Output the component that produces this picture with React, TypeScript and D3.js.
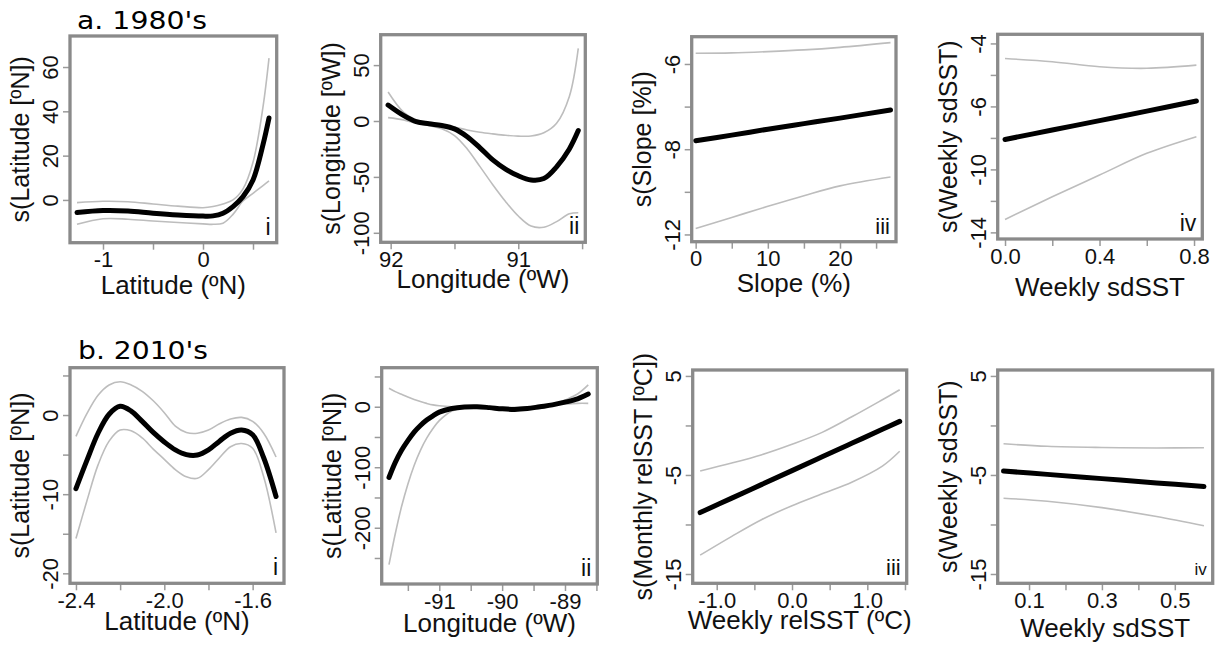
import React, { useRef, useEffect } from "react";
import * as d3 from "d3";

// ---- data (fit + upper / lower confidence bands) ----

// a.i  Latitude 1980's
const a1X = [-1.26, -1.0, -0.75, -0.5, -0.25, 0, 0.1, 0.2, 0.3, 0.4, 0.5, 0.6, 0.66];
const a1Fit = [-5.7, -4.8, -5.0, -6.0, -6.8, -7.3, -7.2, -6.0, -3.0, 1.5, 9, 25, 37];
const a1Hi = [-1.2, -0.6, -0.8, -1.8, -2.8, -3.5, -3.0, -1.8, 0, 5, 17, 42, 64];
const a1Lo = [-11, -8.5, -8.7, -9.5, -10.2, -10.8, -11, -10.5, -6.5, -0.5, 3, 6.5, 8.6];

// a.ii  Longitude 1980's (ºW, axis runs 92 -> 90.5)
const a2X = [92.02, 91.9, 91.8, 91.7, 91.6, 91.5, 91.4, 91.3, 91.2, 91.1, 91.0, 90.9, 90.8, 90.7, 90.6, 90.53];
const a2Fit = [14.3, 5, -0.6, -2.5, -4, -7, -14, -24, -34.8, -43, -49, -52.7, -51.5, -41, -25, -8.6];
const a2Hi = [26, 8, 0.9, -1.5, -3, -5.5, -8, -10, -11.5, -12.8, -13.5, -13.4, -10.5, -2, 22, 65];
const a2Lo = [3, 1, -2, -4, -7, -13, -25, -40.8, -57, -72, -85, -94, -95, -90, -83, -82];

// a.iii  Slope 1980's
const a3X = [0, 5, 10, 15, 20, 27];
const a3Fit = [-7.8, -7.67, -7.53, -7.4, -7.27, -7.08];
const a3Hi = [-5.75, -5.74, -5.71, -5.67, -5.61, -5.5];
const a3Lo = [-9.86, -9.6, -9.34, -9.09, -8.86, -8.65];

// a.iv  Weekly sdSST 1980's
const a4X = [0, 0.2, 0.4, 0.6, 0.81];
const a4Fit = [-7.05, -6.75, -6.45, -6.15, -5.83];
const a4Hi = [-4.48, -4.58, -4.74, -4.79, -4.69];
const a4Lo = [-9.59, -8.87, -8.18, -7.49, -6.96];

// b.i  Latitude 2010's
const b1X = [-2.4, -2.35, -2.3, -2.25, -2.2, -2.15, -2.1, -2.05, -2.0, -1.95, -1.9, -1.85, -1.8, -1.75, -1.7, -1.65, -1.6, -1.55, -1.494];
const b1Fit = [-9.3, -5.7, -2.3, 0.1, 1.1, 0.5, -0.8, -2.2, -3.4, -4.4, -5.0, -5.05, -4.4, -3.3, -2.3, -1.9, -2.5, -5.4, -10.3];
const b1Hi = [-2.7, 0.2, 2.5, 3.8, 4.2, 3.8, 3.0, 1.8, 0.3, -1.4, -2.2, -2.3, -1.9, -1.1, -0.5, -0.3, -0.8, -2.3, -5.3];
const b1Lo = [-15.6, -10.8, -6.3, -3.3, -1.9, -2.0, -2.9, -4.3, -5.6, -6.9, -7.8, -8.0, -6.9, -5.4, -4.0, -3.6, -4.2, -7.8, -14.9];

// b.ii  Longitude 2010's
const b2X = [-91.8, -91.7, -91.6, -91.5, -91.4, -91.3, -91.2, -91.1, -91.0, -90.8, -90.6, -90.4, -90.2, -90.0, -89.8, -89.6, -89.4, -89.2, -89.0, -88.8, -88.63];
const b2Fit = [-117, -92, -72, -56, -42, -31, -22, -15, -9, -3, -0.5, 0, -1.5, -3.5, -4.4, -3, 0, 3, 7.5, 13, 21];
const b2Hi = [30.6, 25, 20.5, 16, 12, 8.5, 5.5, 3, 1.5, 0, 0, -0.5, -1, -1.5, -1, 0, 1, 2.8, 4.5, 5.6, 5.6];
const b2Lo = [-261, -210, -165, -128, -97, -72, -52, -36, -23, -7, -1.5, -2, -3.5, -5.5, -5.8, -4.5, -2.5, 3, 11, 21, 36];

// b.iii  Weekly relSST 2010's
const b3X = [-1.22, -0.8, -0.4, 0, 0.4, 0.8, 1.2, 1.43];
const b3Fit = [-8.8, -7.34, -5.95, -4.56, -3.17, -1.78, -0.39, 0.41];
const b3Hi = [-4.6, -3.8, -2.95, -1.9, -0.7, 0.9, 2.6, 3.6];
const b3Lo = [-13.1, -11.2, -9.5, -8.1, -6.9, -5.7, -4.1, -2.6];

// b.iv  Weekly sdSST 2010's
const b4X = [0.03, 0.15, 0.3, 0.45, 0.58];
const b4Fit = [-4.6, -4.94, -5.37, -5.8, -6.17];
const b4Hi = [-1.85, -2.1, -2.22, -2.27, -2.25];
const b4Lo = [-7.35, -7.65, -8.3, -9.2, -10.13];

// tick values and the labels printed beside them
const a1XTicks = [-1, -0.5, 0, 0.5];
const a1XLabels = ["-1", "", "0", ""];
const a1YTicks = [0, 20, 40, 60];
const a1YLabels = ["0", "20", "40", "60"];
const a2XTicks = [92, 91.5, 91, 90.5];
const a2XLabels = ["92", "", "91", ""];
const a2YTicks = [50, 0, -50, -100];
const a2YLabels = ["50", "0", "-50", "-100"];
const a3XTicks = [0, 5, 10, 15, 20, 25];
const a3XLabels = ["0", "", "10", "", "20", ""];
const a3YTicks = [-6, -7, -8, -9, -10];
const a3YLabels = ["-6", "", "-8", "", "-12"];
const a4XTicks = [0, 0.2, 0.4, 0.6, 0.8];
const a4XLabels = ["0.0", "", "0.4", "", "0.8"];
const a4YTicks = [-4, -5, -6, -7, -8, -9, -10];
const a4YLabels = ["-4", "", "-6", "", "-10", "", "-14"];
const b1XTicks = [-2.4, -2.2, -2.0, -1.8, -1.6];
const b1XLabels = ["-2.4", "", "-2.0", "", "-1.6"];
const b1YTicks = [5, 0, -5, -10, -15, -20];
const b1YLabels = ["", "0", "", "-10", "", "-20"];
const b2XTicks = [-91.5, -91, -90.5, -90, -89.5, -89, -88.5];
const b2XLabels = ["", "-91", "", "-90", "", "-89", ""];
const b2YTicks = [50, 0, -50, -100, -150, -200, -250];
const b2YLabels = ["", "0", "", "-100", "", "-200", ""];
const b3XTicks = [-1, -0.5, 0, 0.5, 1, 1.5];
const b3XLabels = ["-1.0", "", "0.0", "", "1.0", ""];
const sstYTicks = [5, 0, -5, -10, -15];
const sstYLabels = ["5", "", "-5", "", "-15"];
const b4XTicks = [0.1, 0.2, 0.3, 0.4, 0.5];
const b4XLabels = ["0.1", "", "0.3", "", "0.5"];

// ---- layout: plot box (stroke centre), axis limits, titles ----
const panels = [
  { box: [70, 36, 276.7, 242.7], xDom: [-1.33, 0.737], yDom: [-19.3, 74], xs: a1X, fit: a1Fit, hi: a1Hi, lo: a1Lo,
    xTicks: a1XTicks, xLabels: a1XLabels, yTicks: a1YTicks, yLabels: a1YLabels,
    xTitle: "Latitude (ºN)", yTitle: "s(Latitude [ºN])", tag: "i", tagSize: 23, xTitleDy: 51 },
  { box: [380.7, 34.7, 585.3, 242.3], xDom: [92.078, 90.475], yDom: [-108.5, 77.2], xs: a2X, fit: a2Fit, hi: a2Hi, lo: a2Lo,
    xTicks: a2XTicks, xLabels: a2XLabels, yTicks: a2YTicks, yLabels: a2YLabels,
    xTitle: "Longitude (ºW)", yTitle: "s(Longitude [ºW])", tag: "ii", tagSize: 23, xTitleDy: 46 },
  { box: [691.7, 36.7, 896, 241.7], xDom: [-0.55, 27.76], yDom: [-10.17, -5.36], xs: a3X, fit: a3Fit, hi: a3Hi, lo: a3Lo,
    xTicks: a3XTicks, xLabels: a3XLabels, yTicks: a3YTicks, yLabels: a3YLabels,
    xTitle: "Slope (%)", yTitle: "s(Slope [%])", tag: "iii", tagSize: 22, xTitleDy: 50 },
  { box: [997.7, 34.3, 1202.3, 239], xDom: [-0.031, 0.835], yDom: [-10.21, -3.71], xs: a4X, fit: a4Fit, hi: a4Hi, lo: a4Lo,
    xTicks: a4XTicks, xLabels: a4XLabels, yTicks: a4YTicks, yLabels: a4YLabels,
    xTitle: "Weekly sdSST", yTitle: "s(Weekly sdSST)", tag: "iv", tagSize: 23, xTitleDy: 57 },
  { box: [70, 367.7, 284, 583.3], xDom: [-2.427, -1.458], yDom: [-21.26, 5.98], xs: b1X, fit: b1Fit, hi: b1Hi, lo: b1Lo,
    xTicks: b1XTicks, xLabels: b1XLabels, yTicks: b1YTicks, yLabels: b1YLabels,
    xTitle: "Latitude (ºN)", yTitle: "s(Latitude [ºN])", tag: "i", tagSize: 23, xTitleDy: 47 },
  { box: [381.7, 367.7, 597.3, 584], xDom: [-91.916, -88.486], yDom: [-293, 64.5], xs: b2X, fit: b2Fit, hi: b2Hi, lo: b2Lo,
    xTicks: b2XTicks, xLabels: b2XLabels, yTicks: b2YTicks, yLabels: b2YLabels,
    xTitle: "Longitude (ºW)", yTitle: "s(Latitude [ºN])", tag: "ii", tagSize: 23, xTitleDy: 48 },
  { box: [692.7, 370, 906.7, 583.3], xDom: [-1.319, 1.523], yDom: [-15.94, 5.6], xs: b3X, fit: b3Fit, hi: b3Hi, lo: b3Lo,
    xTicks: b3XTicks, xLabels: b3XLabels, yTicks: sstYTicks, yLabels: sstYLabels,
    xTitle: "Weekly relSST (ºC)", yTitle: "s(Monthly relSST [ºC])", tag: "iii", tagSize: 22, xTitleDy: 46 },
  { box: [997.7, 370, 1212.7, 583.3], xDom: [0.014, 0.604], yDom: [-15.94, 5.6], xs: b4X, fit: b4Fit, hi: b4Hi, lo: b4Lo,
    xTicks: b4XTicks, xLabels: b4XLabels, yTicks: sstYTicks, yLabels: sstYLabels,
    xTitle: "Weekly sdSST", yTitle: "s(Weekly sdSST)", tag: "iv", tagSize: 17, xTitleDy: 54 },
];

const SANS = "'Liberation Sans', Arial, sans-serif";
const BOX_COLOR = "#8a8a8a";
const TICK_COLOR = "#9a9a9a";
const CI_COLOR = "#bdbdbd";

const App = () => {
  const svgRef = useRef(null);

  useEffect(() => {
    const svg = d3.select(svgRef.current);
    svg.selectAll("*").remove();

    // row titles
    svg.append("text").attr("x", 77).attr("y", 29)
      .attr("textLength", 130).attr("lengthAdjust", "spacingAndGlyphs")
      .style("font-family", "'DejaVu Sans', Verdana, sans-serif").style("font-size", "25px")
      .text("a. 1980's");
    svg.append("text").attr("x", 78).attr("y", 359)
      .attr("textLength", 130).attr("lengthAdjust", "spacingAndGlyphs")
      .style("font-family", "'DejaVu Sans', Verdana, sans-serif").style("font-size", "25px")
      .text("b. 2010's");

    panels.forEach((p) => {
      const [x0, y0, x1, y1] = p.box;
      const x = d3.scaleLinear().domain(p.xDom).range([x0, x1]);
      const y = d3.scaleLinear().domain(p.yDom).range([y1, y0]);
      const g = svg.append("g");

      // x axis
      const xAxis = g.append("g").attr("transform", `translate(0,${y1})`)
        .call(d3.axisBottom(x).tickValues(p.xTicks).tickFormat((d, i) => p.xLabels[i]).tickSize(7).tickPadding(2));
      xAxis.select(".domain").remove();
      xAxis.selectAll(".tick line").attr("stroke", TICK_COLOR).attr("stroke-width", 1.5);
      xAxis.selectAll(".tick text").style("font-family", SANS).style("font-size", "22px").attr("fill", "#111");

      // y axis, labels parallel to the axis
      const yAxis = g.append("g").attr("transform", `translate(${x0},0)`)
        .call(d3.axisLeft(y).tickValues(p.yTicks).tickFormat((d, i) => p.yLabels[i]).tickSize(7));
      yAxis.select(".domain").remove();
      yAxis.selectAll(".tick line").attr("stroke", TICK_COLOR).attr("stroke-width", 1.5);
      yAxis.selectAll(".tick text")
        .attr("x", null).attr("dy", null)
        .attr("transform", "translate(-12,0) rotate(-90)")
        .attr("text-anchor", "middle")
        .style("font-family", SANS).style("font-size", "22px").attr("fill", "#111");

      // curves
      const line = d3.line()
        .x((d, i) => x(p.xs[i]))
        .y((d) => y(d))
        .curve(d3.curveCatmullRom.alpha(0.5));
      [p.hi, p.lo].forEach((vals) => {
        g.append("path").attr("d", line(vals)).attr("fill", "none")
          .attr("stroke", CI_COLOR).attr("stroke-width", 1.6);
      });
      g.append("path").attr("d", line(p.fit)).attr("fill", "none")
        .attr("stroke", "#000").attr("stroke-width", 5).attr("stroke-linecap", "round");

      // frame
      g.append("rect").attr("x", x0).attr("y", y0).attr("width", x1 - x0).attr("height", y1 - y0)
        .attr("fill", "none").attr("stroke", BOX_COLOR).attr("stroke-width", 3.3);

      // panel numeral
      g.append("text").attr("x", x1 - 6).attr("y", y1 - 8).attr("text-anchor", "end")
        .style("font-family", SANS).style("font-size", `${p.tagSize}px`).attr("fill", "#111")
        .text(p.tag);

      // axis titles
      g.append("text").attr("x", (x0 + x1) / 2).attr("y", y1 + p.xTitleDy).attr("text-anchor", "middle")
        .style("font-family", SANS).style("font-size", "26px").attr("fill", "#111")
        .text(p.xTitle);
      g.append("text")
        .attr("transform", `translate(${x0 - 41},${(y0 + y1) / 2}) rotate(-90)`)
        .attr("text-anchor", "middle")
        .style("font-family", SANS).style("font-size", "25px").attr("fill", "#111")
        .text(p.yTitle);
    });
  }, []);

  return (
    <svg ref={svgRef} width={1220} height={647}
      style={{ position: "absolute", left: 0, top: 0, background: "#fff" }}></svg>
  );
};

export default App;
